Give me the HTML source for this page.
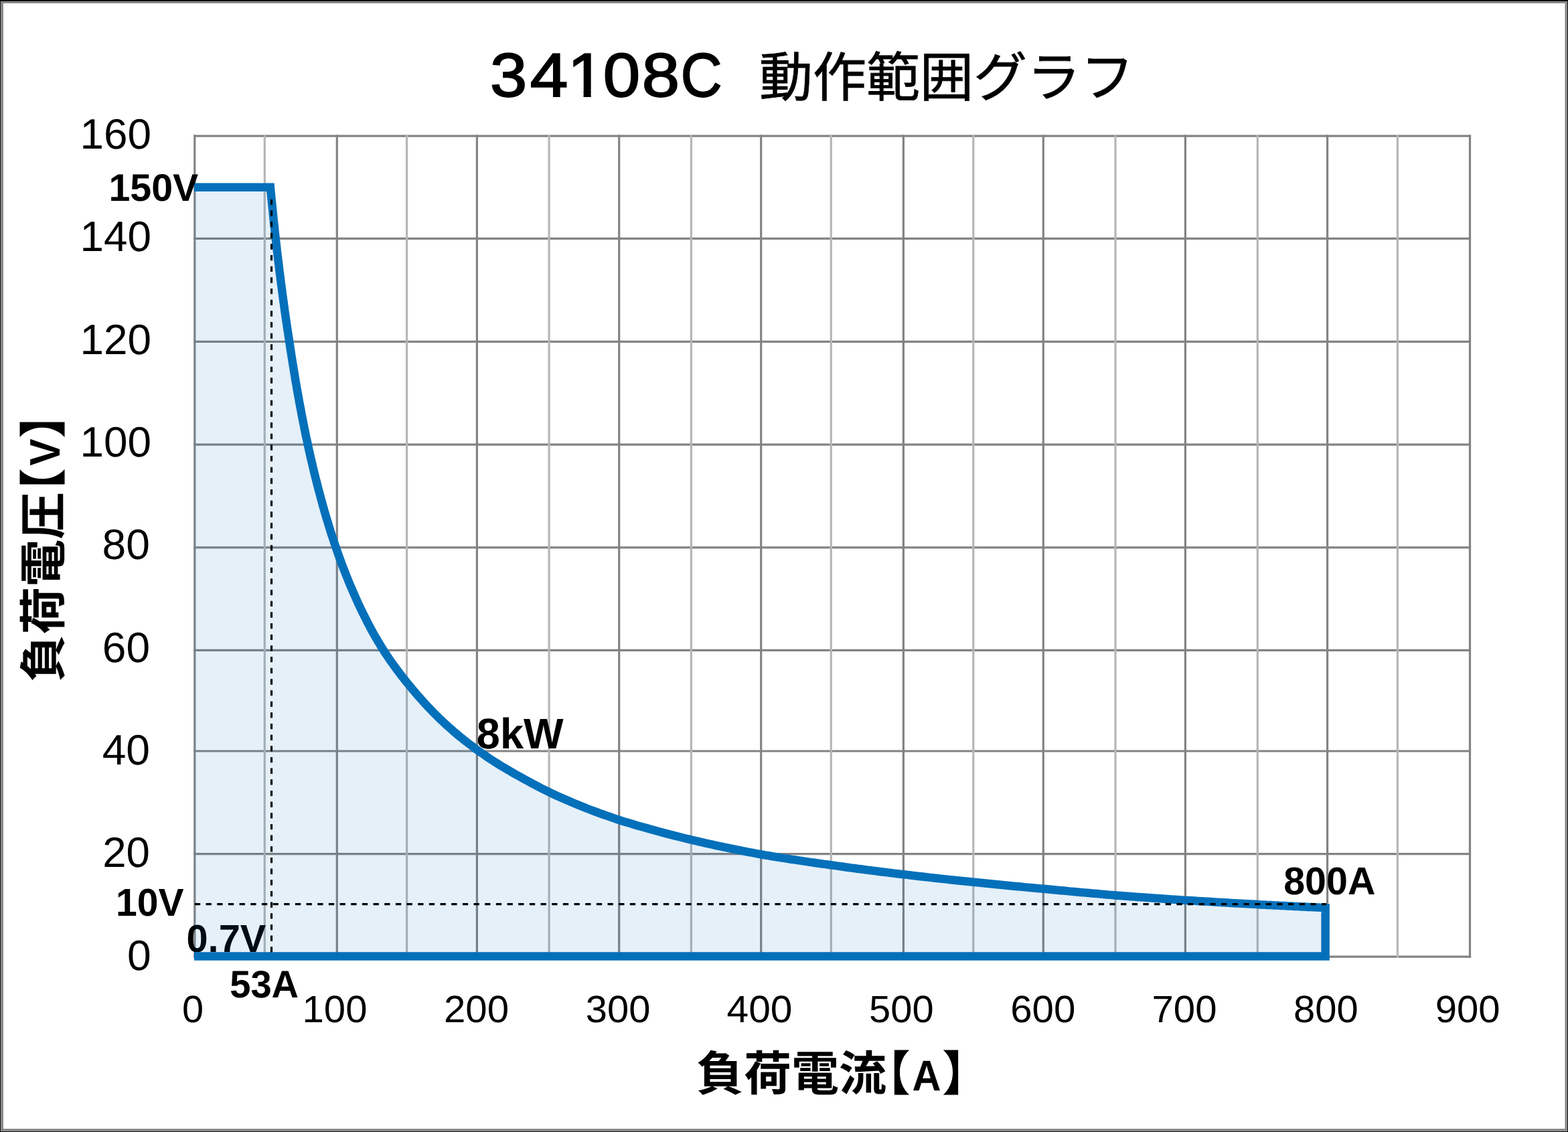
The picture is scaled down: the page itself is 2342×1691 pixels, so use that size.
<!DOCTYPE html>
<html lang="ja"><head><meta charset="utf-8"><title>34108C 動作範囲グラフ</title>
<style>html,body{margin:0;padding:0;background:#000}body{width:2342px;height:1691px;overflow:hidden;font-family:"Liberation Sans",sans-serif}svg{display:block}text{font-family:"Liberation Sans","Noto Sans CJK JP",sans-serif;font-kerning:none;white-space:pre;text-rendering:geometricPrecision}</style>
</head><body>
<svg width="2342" height="1691" viewBox="0 0 2342 1691" role="img" aria-label="34108C 動作範囲グラフ">
<rect x="0" y="0" width="2342" height="1691" fill="#000"/>
<rect x="0.9" y="1.8" width="2340.2" height="1688.3" fill="#939393"/>
<rect x="2.3" y="3.0" width="2337.3" height="1685.6" fill="#838383"/>
<rect x="4.9" y="4.9" width="2332.6" height="1681.3" fill="#fff"/>
<g id="grid" shape-rendering="geometricPrecision">
<g stroke="#838383" stroke-width="3.2">
<line x1="289.2" x2="2197.1" y1="203.2" y2="203.2"/>
<line x1="289.2" x2="2197.1" y1="356.4" y2="356.4"/>
<line x1="289.2" x2="2197.1" y1="510.3" y2="510.3"/>
<line x1="289.2" x2="2197.1" y1="664.2" y2="664.2"/>
<line x1="289.2" x2="2197.1" y1="817.9" y2="817.9"/>
<line x1="289.2" x2="2197.1" y1="971.4" y2="971.4"/>
<line x1="289.2" x2="2197.1" y1="1122.0" y2="1122.0"/>
<line x1="289.2" x2="2197.1" y1="1275.6" y2="1275.6"/>
<line x1="289.2" x2="2197.1" y1="1429.2" y2="1429.2"/>
<line x1="290.8" x2="290.8" y1="201.6" y2="1430.8"/>
<line x1="503.3" x2="503.3" y1="201.6" y2="1430.8"/>
<line x1="712.4" x2="712.4" y1="201.6" y2="1430.8"/>
<line x1="924.7" x2="924.7" y1="201.6" y2="1430.8"/>
<line x1="1136.7" x2="1136.7" y1="201.6" y2="1430.8"/>
<line x1="1349.4" x2="1349.4" y1="201.6" y2="1430.8"/>
<line x1="1558.3" x2="1558.3" y1="201.6" y2="1430.8"/>
<line x1="1770.4" x2="1770.4" y1="201.6" y2="1430.8"/>
<line x1="1982.6" x2="1982.6" y1="201.6" y2="1430.8"/>
<line x1="2195.5" x2="2195.5" y1="201.6" y2="1430.8"/>
</g>
<g stroke="#b6b6b6" stroke-width="3.2">
<line x1="395.3" x2="395.3" y1="201.6" y2="1430.8"/>
<line x1="607.6" x2="607.6" y1="201.6" y2="1430.8"/>
<line x1="820.1" x2="820.1" y1="201.6" y2="1430.8"/>
<line x1="1032.4" x2="1032.4" y1="201.6" y2="1430.8"/>
<line x1="1241.3" x2="1241.3" y1="201.6" y2="1430.8"/>
<line x1="1453.8" x2="1453.8" y1="201.6" y2="1430.8"/>
<line x1="1666.0" x2="1666.0" y1="201.6" y2="1430.8"/>
<line x1="1878.3" x2="1878.3" y1="201.6" y2="1430.8"/>
<line x1="2087.4" x2="2087.4" y1="201.6" y2="1430.8"/>
</g></g>
<g id="lbl-under">
<text transform="translate(278.52,1421.80) scale(0.9947,1)" font-size="58.00" font-weight="bold" fill="#000">0.7V</text>
</g>
<path id="area" d="M291,279.7 L403.9,279.8 L404.3,284.8 L404.8,289.7 L405.3,294.7 L405.8,299.6 L406.3,304.6 L406.8,309.5 L407.3,314.5 L407.8,319.4 L408.3,324.4 L408.8,329.3 L409.3,334.3 L409.9,339.2 L410.4,344.2 L410.9,349.1 L411.5,354.1 L412.0,359.0 L412.6,364.0 L413.2,368.9 L413.7,373.9 L414.3,378.8 L414.9,383.8 L415.5,388.7 L416.1,393.6 L416.7,398.6 L417.3,403.5 L417.9,408.5 L418.6,413.4 L419.2,418.3 L419.8,423.3 L420.5,428.2 L421.1,433.1 L421.8,438.1 L422.4,443.0 L423.1,447.9 L423.8,452.9 L424.5,457.8 L425.1,462.7 L425.8,467.6 L426.5,472.6 L427.2,477.5 L428.0,482.4 L428.7,487.3 L429.4,492.3 L430.2,497.2 L430.9,502.1 L431.7,507.0 L432.4,511.9 L433.2,516.9 L433.9,521.8 L434.7,526.7 L435.4,531.6 L436.2,536.5 L437.0,541.4 L437.8,546.3 L438.6,551.2 L439.4,556.1 L440.2,561.0 L441.0,565.9 L441.8,570.8 L442.7,575.7 L443.5,580.6 L444.4,585.5 L445.3,590.4 L446.2,595.3 L447.0,600.2 L447.9,605.1 L448.9,609.9 L449.8,614.8 L450.7,619.7 L451.6,624.6 L452.6,629.4 L453.6,634.3 L454.5,639.2 L455.5,644.0 L456.5,648.9 L457.5,653.8 L458.6,658.6 L459.6,663.5 L460.7,668.3 L461.7,673.2 L462.8,678.0 L463.9,682.9 L465.0,687.7 L466.2,692.5 L467.3,697.4 L468.5,702.2 L469.6,707.0 L470.8,711.8 L472.0,716.7 L473.3,721.5 L474.5,726.3 L475.7,731.1 L477.0,735.9 L478.3,740.7 L479.6,745.5 L480.9,750.2 L482.2,755.0 L483.6,759.8 L484.9,764.6 L486.3,769.3 L487.7,774.1 L489.2,778.8 L490.6,783.6 L492.1,788.3 L493.5,793.1 L495.0,797.8 L496.6,802.5 L498.1,807.2 L499.7,811.9 L501.3,816.6 L502.9,821.3 L504.5,826.0 L506.2,830.7 L507.9,835.3 L509.6,840.0 L511.3,844.6 L513.1,849.3 L514.9,853.9 L516.7,858.5 L518.6,863.1 L520.4,867.7 L522.3,872.3 L524.2,876.9 L526.2,881.4 L528.2,886.0 L530.2,890.5 L532.2,895.1 L534.2,899.6 L536.3,904.1 L538.4,908.6 L540.6,913.0 L542.8,917.5 L545.0,921.9 L547.2,926.3 L549.5,930.8 L551.8,935.1 L554.1,939.5 L556.5,943.9 L558.9,948.2 L561.4,952.5 L563.9,956.8 L566.5,961.1 L569.1,965.4 L571.7,969.6 L574.4,973.9 L577.1,978.1 L580.0,982.2 L582.8,986.4 L585.7,990.5 L588.7,994.6 L591.7,998.7 L594.7,1002.8 L597.8,1006.8 L600.9,1010.8 L604.0,1014.8 L607.0,1018.6 L610.1,1022.4 L613.2,1026.1 L616.3,1029.9 L619.4,1033.5 L622.6,1037.3 L625.9,1041.0 L629.1,1044.7 L632.5,1048.4 L635.8,1052.1 L639.2,1055.7 L642.6,1059.3 L646.0,1062.9 L649.5,1066.4 L653.0,1069.9 L656.6,1073.4 L660.2,1076.8 L663.8,1080.2 L667.5,1083.6 L671.2,1086.9 L674.9,1090.2 L678.6,1093.4 L682.4,1096.6 L686.2,1099.8 L690.1,1102.9 L693.9,1106.0 L697.9,1109.1 L701.8,1112.1 L705.8,1115.1 L709.7,1118.1 L713.8,1121.0 L717.8,1123.9 L721.9,1126.7 L726.0,1129.5 L730.1,1132.3 L734.3,1135.1 L738.4,1137.8 L742.6,1140.4 L746.8,1143.1 L751.1,1145.6 L755.4,1148.2 L759.6,1150.7 L763.9,1153.2 L768.3,1155.7 L772.6,1158.1 L777.0,1160.5 L781.4,1162.9 L785.8,1165.4 L790.2,1167.8 L794.6,1170.2 L799.1,1172.6 L803.5,1174.9 L808.0,1177.2 L812.5,1179.5 L817.0,1181.7 L821.6,1183.9 L826.1,1186.1 L830.6,1188.2 L835.2,1190.2 L839.8,1192.3 L844.4,1194.3 L849.0,1196.3 L853.6,1198.3 L858.2,1200.2 L862.9,1202.1 L867.5,1204.0 L872.2,1205.9 L876.8,1207.7 L881.5,1209.5 L886.2,1211.3 L890.9,1213.0 L895.6,1214.8 L900.3,1216.5 L905.0,1218.2 L909.8,1219.8 L914.5,1221.4 L919.2,1223.1 L924.0,1224.7 L928.8,1226.2 L933.5,1227.7 L938.3,1229.1 L943.1,1230.5 L947.8,1232.0 L952.6,1233.4 L957.4,1234.7 L962.2,1236.1 L967.0,1237.4 L971.8,1238.8 L976.7,1240.1 L981.5,1241.5 L986.3,1242.8 L991.1,1244.1 L996.0,1245.4 L1000.8,1246.6 L1005.6,1247.9 L1010.5,1249.1 L1015.3,1250.3 L1020.2,1251.5 L1025.0,1252.7 L1029.9,1253.9 L1034.8,1255.1 L1039.6,1256.2 L1044.5,1257.3 L1049.4,1258.4 L1054.3,1259.6 L1059.1,1260.6 L1064.0,1261.7 L1068.9,1262.8 L1073.8,1263.8 L1078.7,1264.9 L1083.6,1265.9 L1088.5,1266.9 L1093.4,1267.9 L1098.3,1268.9 L1103.2,1269.9 L1108.1,1270.9 L1113.0,1271.8 L1117.9,1272.8 L1122.8,1273.7 L1127.7,1274.7 L1132.7,1275.6 L1137.6,1276.5 L1142.5,1277.3 L1147.4,1278.1 L1152.3,1279.0 L1157.3,1279.8 L1162.2,1280.6 L1167.1,1281.4 L1172.1,1282.1 L1177.0,1282.9 L1181.9,1283.7 L1186.9,1284.4 L1191.8,1285.2 L1196.7,1285.9 L1201.7,1286.7 L1206.6,1287.4 L1211.5,1288.1 L1216.5,1288.8 L1221.4,1289.5 L1226.4,1290.2 L1231.3,1290.9 L1236.3,1291.5 L1241.2,1292.2 L1246.2,1292.9 L1251.1,1293.6 L1256.1,1294.3 L1261.0,1295.0 L1266.0,1295.7 L1270.9,1296.4 L1275.9,1297.0 L1280.8,1297.7 L1285.8,1298.3 L1290.8,1299.0 L1295.7,1299.6 L1300.7,1300.3 L1305.6,1300.9 L1310.6,1301.5 L1315.6,1302.2 L1320.5,1302.8 L1325.5,1303.4 L1330.4,1304.0 L1335.4,1304.6 L1340.4,1305.2 L1345.3,1305.8 L1350.3,1306.3 L1355.3,1306.9 L1360.2,1307.5 L1365.2,1308.1 L1370.2,1308.7 L1375.1,1309.2 L1380.1,1309.8 L1385.1,1310.4 L1390.1,1310.9 L1395.0,1311.5 L1400.0,1312.0 L1405.0,1312.6 L1409.9,1313.1 L1414.9,1313.6 L1419.9,1314.2 L1424.9,1314.7 L1429.8,1315.2 L1434.8,1315.7 L1439.8,1316.2 L1444.8,1316.7 L1449.7,1317.2 L1454.7,1317.7 L1459.7,1318.2 L1464.7,1318.8 L1469.7,1319.3 L1474.6,1319.8 L1479.6,1320.3 L1484.6,1320.8 L1489.6,1321.3 L1494.5,1321.8 L1499.5,1322.2 L1504.5,1322.7 L1509.5,1323.2 L1514.5,1323.7 L1519.5,1324.2 L1524.4,1324.6 L1529.4,1325.1 L1534.4,1325.6 L1539.4,1326.0 L1544.4,1326.5 L1549.3,1326.9 L1554.3,1327.4 L1559.3,1327.8 L1564.3,1328.3 L1569.3,1328.8 L1574.3,1329.2 L1579.3,1329.7 L1584.2,1330.2 L1589.2,1330.6 L1594.2,1331.1 L1599.2,1331.6 L1604.2,1332.0 L1609.2,1332.5 L1614.1,1332.9 L1619.1,1333.4 L1624.1,1333.8 L1629.1,1334.3 L1634.1,1334.7 L1639.1,1335.1 L1644.1,1335.6 L1649.1,1336.0 L1654.0,1336.4 L1659.0,1336.9 L1664.0,1337.3 L1669.0,1337.7 L1674.0,1338.1 L1679.0,1338.4 L1684.0,1338.8 L1689.0,1339.2 L1694.0,1339.5 L1698.9,1339.9 L1703.9,1340.2 L1708.9,1340.6 L1713.9,1341.0 L1718.9,1341.3 L1723.9,1341.7 L1728.9,1342.0 L1733.9,1342.3 L1738.9,1342.7 L1743.9,1343.0 L1748.8,1343.4 L1753.8,1343.7 L1758.8,1344.0 L1763.8,1344.4 L1768.8,1344.7 L1773.8,1345.0 L1778.8,1345.3 L1783.8,1345.6 L1788.8,1345.9 L1793.8,1346.2 L1798.8,1346.5 L1803.7,1346.8 L1808.7,1347.1 L1813.7,1347.4 L1818.7,1347.7 L1823.7,1348.0 L1828.7,1348.3 L1833.7,1348.6 L1838.7,1348.9 L1843.7,1349.2 L1848.7,1349.4 L1853.7,1349.7 L1858.7,1350.0 L1863.7,1350.3 L1868.6,1350.6 L1873.6,1350.8 L1878.6,1351.1 L1883.6,1351.4 L1888.6,1351.6 L1893.6,1351.9 L1898.6,1352.1 L1903.6,1352.4 L1908.6,1352.6 L1913.6,1352.9 L1918.6,1353.1 L1923.6,1353.4 L1928.6,1353.6 L1933.6,1353.9 L1938.6,1354.1 L1943.6,1354.4 L1948.5,1354.6 L1953.5,1354.9 L1958.5,1355.1 L1963.5,1355.3 L1968.5,1355.6 L1973.5,1355.8 L1978.5,1356.0 L1979.6,1356.1 L1979.6,1428.6 L291,1428.6 Z" fill="#0070c0" fill-opacity="0.1"/>
<path id="curve" d="M290,279.7 L403.9,279.8 L404.3,284.8 L404.8,289.7 L405.3,294.7 L405.8,299.6 L406.3,304.6 L406.8,309.5 L407.3,314.5 L407.8,319.4 L408.3,324.4 L408.8,329.3 L409.3,334.3 L409.9,339.2 L410.4,344.2 L410.9,349.1 L411.5,354.1 L412.0,359.0 L412.6,364.0 L413.2,368.9 L413.7,373.9 L414.3,378.8 L414.9,383.8 L415.5,388.7 L416.1,393.6 L416.7,398.6 L417.3,403.5 L417.9,408.5 L418.6,413.4 L419.2,418.3 L419.8,423.3 L420.5,428.2 L421.1,433.1 L421.8,438.1 L422.4,443.0 L423.1,447.9 L423.8,452.9 L424.5,457.8 L425.1,462.7 L425.8,467.6 L426.5,472.6 L427.2,477.5 L428.0,482.4 L428.7,487.3 L429.4,492.3 L430.2,497.2 L430.9,502.1 L431.7,507.0 L432.4,511.9 L433.2,516.9 L433.9,521.8 L434.7,526.7 L435.4,531.6 L436.2,536.5 L437.0,541.4 L437.8,546.3 L438.6,551.2 L439.4,556.1 L440.2,561.0 L441.0,565.9 L441.8,570.8 L442.7,575.7 L443.5,580.6 L444.4,585.5 L445.3,590.4 L446.2,595.3 L447.0,600.2 L447.9,605.1 L448.9,609.9 L449.8,614.8 L450.7,619.7 L451.6,624.6 L452.6,629.4 L453.6,634.3 L454.5,639.2 L455.5,644.0 L456.5,648.9 L457.5,653.8 L458.6,658.6 L459.6,663.5 L460.7,668.3 L461.7,673.2 L462.8,678.0 L463.9,682.9 L465.0,687.7 L466.2,692.5 L467.3,697.4 L468.5,702.2 L469.6,707.0 L470.8,711.8 L472.0,716.7 L473.3,721.5 L474.5,726.3 L475.7,731.1 L477.0,735.9 L478.3,740.7 L479.6,745.5 L480.9,750.2 L482.2,755.0 L483.6,759.8 L484.9,764.6 L486.3,769.3 L487.7,774.1 L489.2,778.8 L490.6,783.6 L492.1,788.3 L493.5,793.1 L495.0,797.8 L496.6,802.5 L498.1,807.2 L499.7,811.9 L501.3,816.6 L502.9,821.3 L504.5,826.0 L506.2,830.7 L507.9,835.3 L509.6,840.0 L511.3,844.6 L513.1,849.3 L514.9,853.9 L516.7,858.5 L518.6,863.1 L520.4,867.7 L522.3,872.3 L524.2,876.9 L526.2,881.4 L528.2,886.0 L530.2,890.5 L532.2,895.1 L534.2,899.6 L536.3,904.1 L538.4,908.6 L540.6,913.0 L542.8,917.5 L545.0,921.9 L547.2,926.3 L549.5,930.8 L551.8,935.1 L554.1,939.5 L556.5,943.9 L558.9,948.2 L561.4,952.5 L563.9,956.8 L566.5,961.1 L569.1,965.4 L571.7,969.6 L574.4,973.9 L577.1,978.1 L580.0,982.2 L582.8,986.4 L585.7,990.5 L588.7,994.6 L591.7,998.7 L594.7,1002.8 L597.8,1006.8 L600.9,1010.8 L604.0,1014.8 L607.0,1018.6 L610.1,1022.4 L613.2,1026.1 L616.3,1029.9 L619.4,1033.5 L622.6,1037.3 L625.9,1041.0 L629.1,1044.7 L632.5,1048.4 L635.8,1052.1 L639.2,1055.7 L642.6,1059.3 L646.0,1062.9 L649.5,1066.4 L653.0,1069.9 L656.6,1073.4 L660.2,1076.8 L663.8,1080.2 L667.5,1083.6 L671.2,1086.9 L674.9,1090.2 L678.6,1093.4 L682.4,1096.6 L686.2,1099.8 L690.1,1102.9 L693.9,1106.0 L697.9,1109.1 L701.8,1112.1 L705.8,1115.1 L709.7,1118.1 L713.8,1121.0 L717.8,1123.9 L721.9,1126.7 L726.0,1129.5 L730.1,1132.3 L734.3,1135.1 L738.4,1137.8 L742.6,1140.4 L746.8,1143.1 L751.1,1145.6 L755.4,1148.2 L759.6,1150.7 L763.9,1153.2 L768.3,1155.7 L772.6,1158.1 L777.0,1160.5 L781.4,1162.9 L785.8,1165.4 L790.2,1167.8 L794.6,1170.2 L799.1,1172.6 L803.5,1174.9 L808.0,1177.2 L812.5,1179.5 L817.0,1181.7 L821.6,1183.9 L826.1,1186.1 L830.6,1188.2 L835.2,1190.2 L839.8,1192.3 L844.4,1194.3 L849.0,1196.3 L853.6,1198.3 L858.2,1200.2 L862.9,1202.1 L867.5,1204.0 L872.2,1205.9 L876.8,1207.7 L881.5,1209.5 L886.2,1211.3 L890.9,1213.0 L895.6,1214.8 L900.3,1216.5 L905.0,1218.2 L909.8,1219.8 L914.5,1221.4 L919.2,1223.1 L924.0,1224.7 L928.8,1226.2 L933.5,1227.7 L938.3,1229.1 L943.1,1230.5 L947.8,1232.0 L952.6,1233.4 L957.4,1234.7 L962.2,1236.1 L967.0,1237.4 L971.8,1238.8 L976.7,1240.1 L981.5,1241.5 L986.3,1242.8 L991.1,1244.1 L996.0,1245.4 L1000.8,1246.6 L1005.6,1247.9 L1010.5,1249.1 L1015.3,1250.3 L1020.2,1251.5 L1025.0,1252.7 L1029.9,1253.9 L1034.8,1255.1 L1039.6,1256.2 L1044.5,1257.3 L1049.4,1258.4 L1054.3,1259.6 L1059.1,1260.6 L1064.0,1261.7 L1068.9,1262.8 L1073.8,1263.8 L1078.7,1264.9 L1083.6,1265.9 L1088.5,1266.9 L1093.4,1267.9 L1098.3,1268.9 L1103.2,1269.9 L1108.1,1270.9 L1113.0,1271.8 L1117.9,1272.8 L1122.8,1273.7 L1127.7,1274.7 L1132.7,1275.6 L1137.6,1276.5 L1142.5,1277.3 L1147.4,1278.1 L1152.3,1279.0 L1157.3,1279.8 L1162.2,1280.6 L1167.1,1281.4 L1172.1,1282.1 L1177.0,1282.9 L1181.9,1283.7 L1186.9,1284.4 L1191.8,1285.2 L1196.7,1285.9 L1201.7,1286.7 L1206.6,1287.4 L1211.5,1288.1 L1216.5,1288.8 L1221.4,1289.5 L1226.4,1290.2 L1231.3,1290.9 L1236.3,1291.5 L1241.2,1292.2 L1246.2,1292.9 L1251.1,1293.6 L1256.1,1294.3 L1261.0,1295.0 L1266.0,1295.7 L1270.9,1296.4 L1275.9,1297.0 L1280.8,1297.7 L1285.8,1298.3 L1290.8,1299.0 L1295.7,1299.6 L1300.7,1300.3 L1305.6,1300.9 L1310.6,1301.5 L1315.6,1302.2 L1320.5,1302.8 L1325.5,1303.4 L1330.4,1304.0 L1335.4,1304.6 L1340.4,1305.2 L1345.3,1305.8 L1350.3,1306.3 L1355.3,1306.9 L1360.2,1307.5 L1365.2,1308.1 L1370.2,1308.7 L1375.1,1309.2 L1380.1,1309.8 L1385.1,1310.4 L1390.1,1310.9 L1395.0,1311.5 L1400.0,1312.0 L1405.0,1312.6 L1409.9,1313.1 L1414.9,1313.6 L1419.9,1314.2 L1424.9,1314.7 L1429.8,1315.2 L1434.8,1315.7 L1439.8,1316.2 L1444.8,1316.7 L1449.7,1317.2 L1454.7,1317.7 L1459.7,1318.2 L1464.7,1318.8 L1469.7,1319.3 L1474.6,1319.8 L1479.6,1320.3 L1484.6,1320.8 L1489.6,1321.3 L1494.5,1321.8 L1499.5,1322.2 L1504.5,1322.7 L1509.5,1323.2 L1514.5,1323.7 L1519.5,1324.2 L1524.4,1324.6 L1529.4,1325.1 L1534.4,1325.6 L1539.4,1326.0 L1544.4,1326.5 L1549.3,1326.9 L1554.3,1327.4 L1559.3,1327.8 L1564.3,1328.3 L1569.3,1328.8 L1574.3,1329.2 L1579.3,1329.7 L1584.2,1330.2 L1589.2,1330.6 L1594.2,1331.1 L1599.2,1331.6 L1604.2,1332.0 L1609.2,1332.5 L1614.1,1332.9 L1619.1,1333.4 L1624.1,1333.8 L1629.1,1334.3 L1634.1,1334.7 L1639.1,1335.1 L1644.1,1335.6 L1649.1,1336.0 L1654.0,1336.4 L1659.0,1336.9 L1664.0,1337.3 L1669.0,1337.7 L1674.0,1338.1 L1679.0,1338.4 L1684.0,1338.8 L1689.0,1339.2 L1694.0,1339.5 L1698.9,1339.9 L1703.9,1340.2 L1708.9,1340.6 L1713.9,1341.0 L1718.9,1341.3 L1723.9,1341.7 L1728.9,1342.0 L1733.9,1342.3 L1738.9,1342.7 L1743.9,1343.0 L1748.8,1343.4 L1753.8,1343.7 L1758.8,1344.0 L1763.8,1344.4 L1768.8,1344.7 L1773.8,1345.0 L1778.8,1345.3 L1783.8,1345.6 L1788.8,1345.9 L1793.8,1346.2 L1798.8,1346.5 L1803.7,1346.8 L1808.7,1347.1 L1813.7,1347.4 L1818.7,1347.7 L1823.7,1348.0 L1828.7,1348.3 L1833.7,1348.6 L1838.7,1348.9 L1843.7,1349.2 L1848.7,1349.4 L1853.7,1349.7 L1858.7,1350.0 L1863.7,1350.3 L1868.6,1350.6 L1873.6,1350.8 L1878.6,1351.1 L1883.6,1351.4 L1888.6,1351.6 L1893.6,1351.9 L1898.6,1352.1 L1903.6,1352.4 L1908.6,1352.6 L1913.6,1352.9 L1918.6,1353.1 L1923.6,1353.4 L1928.6,1353.6 L1933.6,1353.9 L1938.6,1354.1 L1943.6,1354.4 L1948.5,1354.6 L1953.5,1354.9 L1958.5,1355.1 L1963.5,1355.3 L1968.5,1355.6 L1973.5,1355.8 L1978.5,1356.0 L1979.6,1356.1 L1979.6,1428.6 L290,1428.6" fill="none" stroke="#0470ba" stroke-width="12.5" stroke-linejoin="miter" stroke-miterlimit="10" stroke-linecap="butt"/>
<g id="guides" stroke="#000" stroke-width="3.2" stroke-dasharray="8.33 8.335" fill="none">
<line x1="405.5" x2="405.5" y1="297.7" y2="1422.4"/>
<line x1="290.9" x2="1981" y1="1350.6" y2="1350.6"/>
</g>
<g id="yticks">
<text transform="translate(119.44,221.93) scale(1.0048,1)" font-size="63.56" font-weight="normal" fill="#000">160</text>
<text transform="translate(119.44,374.93) scale(1.0048,1)" font-size="63.56" font-weight="normal" fill="#000">140</text>
<text transform="translate(119.44,528.53) scale(1.0048,1)" font-size="63.56" font-weight="normal" fill="#000">120</text>
<text transform="translate(119.44,681.73) scale(1.0048,1)" font-size="63.56" font-weight="normal" fill="#000">100</text>
<text transform="translate(152.61,835.18) scale(1.0084,1)" font-size="63.56" font-weight="normal" fill="#000">80</text>
<text transform="translate(152.85,988.53) scale(1.0064,1)" font-size="63.56" font-weight="normal" fill="#000">60</text>
<text transform="translate(152.63,1141.93) scale(1.0096,1)" font-size="63.56" font-weight="normal" fill="#000">40</text>
<text transform="translate(153.20,1295.23) scale(1.0013,1)" font-size="63.56" font-weight="normal" fill="#000">20</text>
<text transform="translate(189.99,1448.93) scale(1.0104,1)" font-size="63.56" font-weight="normal" fill="#000">0</text>
</g>
<g id="xticks">
<text transform="translate(272.04,1527.14) scale(1.0169,1)" font-size="56.78" font-weight="normal" fill="#000">0</text>
<text transform="translate(451.58,1527.14) scale(1.0228,1)" font-size="56.78" font-weight="normal" fill="#000">100</text>
<text transform="translate(662.97,1527.14) scale(1.0250,1)" font-size="56.78" font-weight="normal" fill="#000">200</text>
<text transform="translate(874.80,1527.14) scale(1.0193,1)" font-size="56.78" font-weight="normal" fill="#000">300</text>
<text transform="translate(1085.55,1527.14) scale(1.0338,1)" font-size="56.78" font-weight="normal" fill="#000">400</text>
<text transform="translate(1298.08,1527.14) scale(1.0184,1)" font-size="56.78" font-weight="normal" fill="#000">500</text>
<text transform="translate(1509.14,1527.14) scale(1.0253,1)" font-size="56.78" font-weight="normal" fill="#000">600</text>
<text transform="translate(1720.52,1527.14) scale(1.0245,1)" font-size="56.78" font-weight="normal" fill="#000">700</text>
<text transform="translate(1932.08,1527.14) scale(1.0194,1)" font-size="56.78" font-weight="normal" fill="#000">800</text>
<text transform="translate(2143.68,1527.14) scale(1.0228,1)" font-size="56.78" font-weight="normal" fill="#000">900</text>
</g>
<g id="annot">
<text transform="translate(162.39,299.60) scale(0.9989,1)" font-size="57.40" font-weight="bold" fill="#000">150V</text>
<text transform="translate(172.90,1367.90) scale(0.9844,1)" font-size="58.00" font-weight="bold" fill="#000">10V</text>
<text transform="translate(343.17,1489.80) scale(0.9782,1)" font-size="57.40" font-weight="bold" fill="#000">53A</text>
<text transform="translate(711.80,1117.80) scale(0.9853,1)" font-size="64.10" font-weight="bold" fill="#000">8kW</text>
<text transform="translate(1917.18,1335.50) scale(0.9890,1)" font-size="58.00" font-weight="bold" fill="#000">800A</text>
</g>
<g id="title">
<text transform="translate(732.10,143.70) scale(1.0759,1)" font-size="92.23" font-weight="normal" fill="#000" stroke="#000" stroke-width="2.0" stroke-linejoin="miter">3</text>
<text transform="translate(791.77,143.70) scale(1.1036,1)" font-size="92.23" font-weight="normal" fill="#000" stroke="#000" stroke-width="2.0" stroke-linejoin="miter">4</text>
<text transform="translate(900.69,143.70) scale(1.0805,1)" font-size="92.23" font-weight="normal" fill="#000" stroke="#000" stroke-width="2.0" stroke-linejoin="miter">0</text>
<text transform="translate(958.70,143.70) scale(1.0976,1)" font-size="92.23" font-weight="normal" fill="#000" stroke="#000" stroke-width="2.0" stroke-linejoin="miter">8</text>
<text transform="translate(1016.79,143.70) scale(0.9270,1)" font-size="92.23" font-weight="normal" fill="#000" stroke="#000" stroke-width="2.0" stroke-linejoin="miter">C</text>
<clipPath id="nofoot"><rect x="-10" y="-110" width="120" height="102.11"/><rect x="22.19" y="-110" width="10.15" height="125"/></clipPath>
<g transform="translate(847.67,143.70) scale(1.08,1)" clip-path="url(#nofoot)"><text font-size="92.23" fill="#000" stroke="#000" stroke-width="2.0">1</text></g>
<text x="1134" y="143.7" font-size="80" font-weight="normal" fill="#000" stroke="#000" stroke-width="0.8" style='font-family:"Liberation Sans","Noto Sans CJK JP",sans-serif'>動作範囲グラフ</text>
</g>
<g id="xtitle">
<text x="1040" y="1629" font-size="71" font-weight="bold" fill="#000" style='font-family:"Liberation Sans","Noto Sans CJK JP",sans-serif'>負荷電流</text>
<text x="1360" y="1629" font-size="71" font-weight="bold" fill="#000" text-anchor="end" style='font-family:"Liberation Sans","Noto Sans CJK JP",sans-serif'>【</text>
<text transform="translate(1362.62,1628.60) scale(0.9287,1)" font-size="64.20" font-weight="bold" fill="#000">A</text>
<text x="1407" y="1629" font-size="71" font-weight="bold" fill="#000" text-anchor="start" style='font-family:"Liberation Sans","Noto Sans CJK JP",sans-serif'>】</text>
</g>
<g id="ytitle" transform="translate(0,1015.8) rotate(-90)">
<text x="-3" y="89.5" font-size="71" font-weight="bold" fill="#000" style='font-family:"Liberation Sans","Noto Sans CJK JP",sans-serif'>負荷電圧</text>
<text x="316.5" y="89.5" font-size="71" font-weight="bold" fill="#000" text-anchor="end" style='font-family:"Liberation Sans","Noto Sans CJK JP",sans-serif'>【</text>
<text transform="translate(320.09,88.50) scale(0.9501,1)" font-size="63.80" font-weight="bold" fill="#000">V</text>
<text x="361" y="89.5" font-size="71" font-weight="bold" fill="#000" text-anchor="start" style='font-family:"Liberation Sans","Noto Sans CJK JP",sans-serif'>】</text>
</g>
</svg>
</body></html>
